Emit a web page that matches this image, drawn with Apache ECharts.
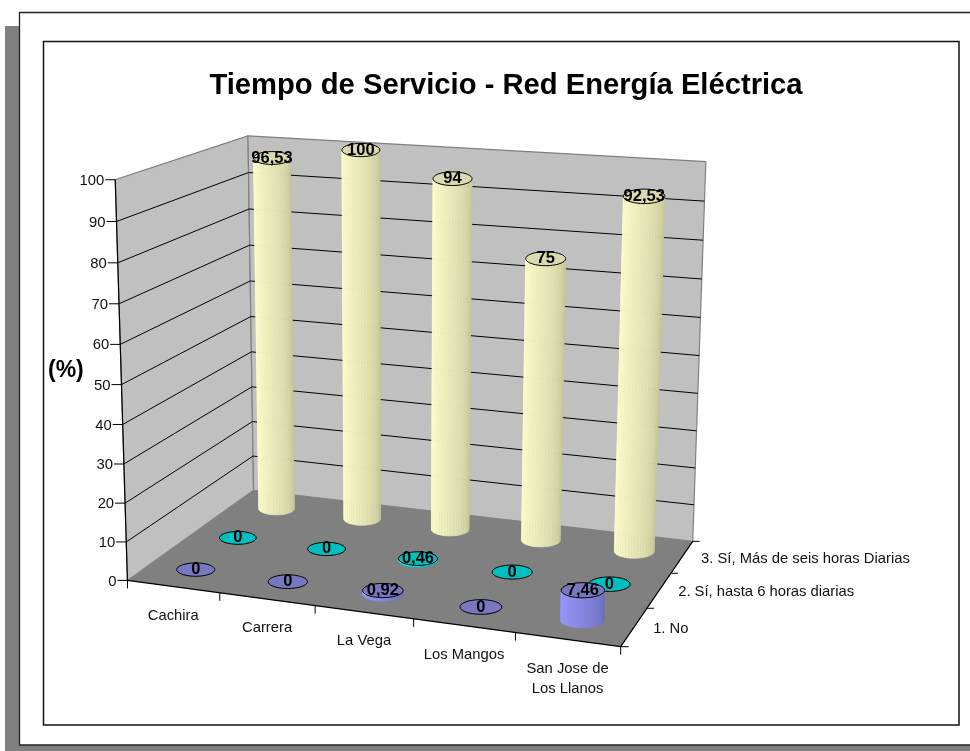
<!DOCTYPE html>
<html>
<head>
<meta charset="utf-8">
<style>html,body{margin:0;padding:0;background:#fff}#c{width:970px;height:751px}</style>
<script src="https://cdn.jsdelivr.net/npm/echarts@6/dist/echarts.min.js"></script>
</head>
<body>
<div id="c"></div>
<script>
var categories = ['Cachira', 'Carrera', 'La Vega', 'Los Mangos', 'San Jose de\nLos Llanos'];
var depthLabels = ['1. No', '2. Sí, hasta 6 horas diarias', '3. Sí, Más de seis horas Diarias'];
var valueTicks = [0, 10, 20, 30, 40, 50, 60, 70, 80, 90, 100];
var seriesNo = [0, 0, 0.92, 0, 7.46];
var seriesHasta6 = [0, 0, 0.46, 0, 0];
var seriesMas6 = [96.53, 100, 94, 75, 92.53];
var titleText = 'Tiempo de Servicio - Red Energía Eléctrica';
var FONT = '"Liberation Sans", Arial, sans-serif';

// Camera calibration of the oblique 3D box: [across, up, depth, screenX, screenY]
var calib = [
  [0,0,0,128,580],[1,0,0,620,646],[1,0,1,692,542],[0,0,1,253,490],
  [0,1,0,115,179],[0,1,1,248,136],[1,1,1,706,162],
  [.2,0,0,220,593],[.4,0,0,315,606],[.6,0,0,413,620],[.8,0,0,515,633],
  [0,.5,0,122,385],[1,.7,1,701.5,279],[1,0,1/3,647,608],[1,0,2/3,673,572]
];
function fitCamera(pts) {
  var n = 11, A = [], i, j, k;
  for (i = 0; i < n; i++) { A.push(new Array(n + 1).fill(0)); }
  function add(r, b) {
    for (var a = 0; a < n; a++) {
      for (var c = 0; c < n; c++) { A[a][c] += r[a] * r[c]; }
      A[a][n] += r[a] * b;
    }
  }
  pts.forEach(function (p) {
    var X = p[0], Y = p[1], Z = p[2], u = p[3] / 1000, v = p[4] / 1000;
    add([X,Y,Z,1,0,0,0,0,-u*X,-u*Y,-u*Z], u);
    add([0,0,0,0,X,Y,Z,1,-v*X,-v*Y,-v*Z], v);
  });
  for (i = 0; i < n; i++) {
    var m = i;
    for (k = i + 1; k < n; k++) { if (Math.abs(A[k][i]) > Math.abs(A[m][i])) m = k; }
    var t = A[i]; A[i] = A[m]; A[m] = t;
    for (k = 0; k < n; k++) {
      if (k === i) continue;
      var f = A[k][i] / A[i][i];
      for (j = i; j <= n; j++) { A[k][j] -= f * A[i][j]; }
    }
  }
  return A.map(function (r, idx) { return r[n] / r[idx]; });
}
var cam = fitCamera(calib);
function project(X, Y, Z) {
  var w = cam[8]*X + cam[9]*Y + cam[10]*Z + 1;
  return [1000 * (cam[0]*X + cam[1]*Y + cam[2]*Z + cam[3]) / w,
          1000 * (cam[4]*X + cam[5]*Y + cam[6]*Z + cam[7]) / w];
}
// Normalise a library-scale pixel position into box coordinates
function toBox(params, pt) {
  var cs = params.coordSys;
  return [(pt[0] - cs.x) / cs.width, 1 - (pt[1] - cs.y) / cs.height];
}
function mix(a, b, t) {
  return 'rgb(' + [0,1,2].map(function (i) { return Math.round(a[i] + (b[i] - a[i]) * t); }).join(',') + ')';
}
function txt(text, x, y, font, align, vAlign, extra) {
  var s = { text: text, x: x, y: y, fill: '#000', font: font, align: align, verticalAlign: vAlign };
  if (extra) { for (var k in extra) s[k] = extra[k]; }
  return { type: 'text', silent: true, style: s };
}
function line(p, q, w, color) {
  return { type: 'line', silent: true, shape: { x1: p[0], y1: p[1], x2: q[0], y2: q[1] },
           style: { stroke: color || '#000', lineWidth: w || 1 } };
}
function poly(points, fill, stroke, w) {
  return { type: 'polygon', silent: true, shape: { points: points },
           style: { fill: fill, stroke: stroke || null, lineWidth: w || 0 } };
}

function renderFrame(params, api) {
  var kids = [], P = project;
  kids.push(poly([P(0,0,0),P(0,1,0),P(0,1,1),P(0,0,1)], '#c0c0c0', '#808080', 1.2));
  kids.push(poly([P(0,1,1),P(1,1,1),P(1,0,1),P(0,0,1)], '#c0c0c0', '#808080', 1.2));
  kids.push(poly([P(0,0,0),P(1,0,0),P(1,0,1),P(0,0,1)], '#808080'));
  valueTicks.forEach(function (t) {
    var y = toBox(params, api.coord([0, t]))[1];
    var a = P(0,y,0), b = P(0,y,1), c = P(1,y,1);
    if (t > 0 && t < 100) {
      kids.push(line(a, b, 1));
      kids.push(line(b, c, 1));
    }
    kids.push(line([a[0] - 10, a[1]], a, 1));
    kids.push(txt(String(t), a[0] - 11, a[1] + 1, '14.8px ' + FONT, 'right', 'middle', { fill: '#111' }));
  });
  kids.push(line(P(0,1,0), P(0,0,0), 1.2));
  kids.push(line(P(0,0,0), P(1,0,0), 1.2));
  kids.push(line(P(1,0,0), P(1,0,1), 1.2));
  var o = P(0,0,0), e = P(1,0,0);
  kids.push(line(o, [o[0], o[1] + 8], 1));
  categories.forEach(function (name, i) {
    var u = toBox(params, api.coord([i, 0]))[0];
    var du = 1 / categories.length;
    var tick = P(u + du / 2, 0, 0);
    kids.push(line(tick, [tick[0], tick[1] + 8], 1));
    var c = P(u, 0, 0);
    kids.push(txt(name, c[0], c[1] + 19, '14.8px ' + FONT, 'center', 'top', { fill: '#111', lineHeight: 20 }));
  });
  depthLabels.forEach(function (name, i) {
    var z0 = (i + 0.5) / depthLabels.length, z1 = (i + 1) / depthLabels.length;
    var tick = P(1, 0, z1);
    kids.push(line(tick, [tick[0] + 7, tick[1]], 1));
    var c = P(1, 0, z0);
    kids.push(txt(name, c[0] + 19, c[1] + 2, '14.8px ' + FONT, 'left', 'middle', { fill: '#111' }));
  });
  kids.push(line(e, [e[0] + 8, e[1]], 1));
  kids.push(txt('(%)', 48, 371, 'bold 23px ' + FONT, 'left', 'middle'));
  return { type: 'group', children: kids };
}

function cylinderRenderer(depthIndex, light, dark, topFill) {
  return function (params, api) {
    var cat = api.value(0), val = api.value(1);
    var b0 = toBox(params, api.coord([cat, 0]));
    var bv = toBox(params, api.coord([cat, val]));
    var z = (depthIndex + 0.5) / 3, u = b0[0], r = 0.042;
    var cb = project(u, 0, z), ct = project(u, bv[1], z);
    var hb = (project(u + r, 0, z)[0] - project(u - r, 0, z)[0]) / 2;
    var ht = (project(u + r, bv[1], z)[0] - project(u - r, bv[1], z)[0]) / 2;
    var kids = [], N = 20, ratio = 0.35, i;
    function ring(c, h, th) { return [c[0] - h * Math.cos(th), c[1] + h * ratio * Math.sin(th)]; }
    if (val > 0) {
      for (i = 0; i < N; i++) {
        var t0 = Math.PI * i / N, t1 = Math.PI * (i + 1) / N;
        var col = mix(light, dark, Math.pow((i + 0.5) / N, 1.3));
        var s = poly([ring(ct,ht,t0), ring(ct,ht,t1), ring(cb,hb,t1), ring(cb,hb,t0)], col, col, 0.6);
        kids.push(s);
      }
    }
    var disc = [];
    for (i = 0; i < 36; i++) { disc.push(ring(ct, ht, 2 * Math.PI * i / 36)); }
    kids.push(poly(disc, topFill, '#000', 1));
    kids.push(txt(String(val).replace('.', ','), ct[0], ct[1], 'bold 16.5px ' + FONT, 'center', 'middle'));
    return { type: 'group', children: kids };
  };
}
function points(values) { return values.map(function (v, i) { return [i, v]; }); }
function cylSeries(name, values, depthIndex, light, dark, topFill) {
  return { name: name, type: 'custom', coordinateSystem: 'cartesian2d', silent: true, clip: false,
           encode: { x: 0, y: 1 }, data: points(values),
           renderItem: cylinderRenderer(depthIndex, light, dark, topFill) };
}

var chart = echarts.init(document.getElementById('c'), null, { renderer: 'canvas' });
chart.setOption({
  animation: false,
  backgroundColor: '#fff',
  title: { text: titleText, left: 501, top: 66, textAlign: 'center',
           textStyle: { fontFamily: FONT, fontWeight: 'bold', fontSize: 29.2, color: '#000' } },
  grid: { left: 0, right: 0, top: 0, bottom: 0 },
  xAxis: { type: 'category', data: categories, show: false },
  yAxis: { type: 'value', min: 0, max: 100, interval: 10, show: false },
  graphic: [
    { type: 'rect', z: -10, silent: true, shape: { x: 5, y: 26, width: 965, height: 725 }, style: { fill: '#808080' } },
    { type: 'rect', z: -9, silent: true, shape: { x: 19.5, y: 12.5, width: 960, height: 732.5 }, style: { fill: '#fff', stroke: '#222', lineWidth: 1.3 } },
    { type: 'rect', z: -8, silent: true, shape: { x: 43.5, y: 41.5, width: 915.5, height: 683.5 }, style: { fill: '#fff', stroke: '#111', lineWidth: 1.5 } }
  ],
  series: [
    { name: 'frame', type: 'custom', coordinateSystem: 'cartesian2d', silent: true, clip: false,
      encode: { x: 0, y: 1 }, data: [[0, 0]], renderItem: renderFrame },
    cylSeries(depthLabels[2], seriesMas6, 2, [255,255,204], [196,196,150], '#dadab0'),
    cylSeries(depthLabels[1], seriesHasta6, 1, [0,240,240], [0,170,170], '#00bfbf'),
    cylSeries(depthLabels[0], seriesNo, 0, [153,153,255], [105,105,185], '#7878c0')
  ]
});
</script>
</body>
</html>
